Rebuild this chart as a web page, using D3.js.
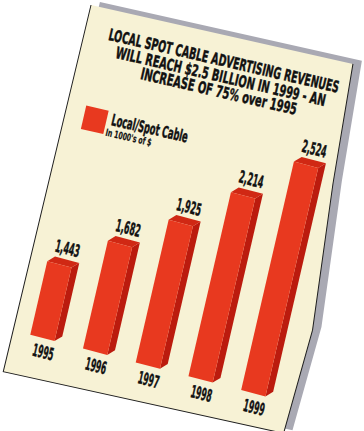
<!DOCTYPE html>
<html>
<head>
<meta charset="utf-8">
<script src="https://cdn.jsdelivr.net/npm/d3@7"></script>
<style>
    html, body { margin: 0; padding: 0; background: #fff; }
    #chart { width: 364px; height: 431px; overflow: hidden; }
    text { font-family: "DejaVu Sans Condensed", "Liberation Sans Narrow", sans-serif; font-weight: bold; fill: #111; stroke: #111; stroke-width: 0.45; }
</style>
</head>
<body>
<div id="chart"></div>
<script>
// Data
const years = ["1995", "1996", "1997", "1998", "1999"];
const revenues = [1443, 1682, 1925, 2214, 2524];
const titleLines = [
    "LOCAL SPOT CABLE ADVERTISING REVENUES",
    "WILL REACH $2.5 BILLION IN 1999 - AN",
    "INCREASE OF 75% over 1995"
];
const legendLabel = "Local/Spot Cable";
const legendUnit = "In 1000's of $";

const width = 364, height = 431;

const svg = d3.select("#chart").append("svg")
    .attr("width", width)
    .attr("height", height);

svg.append("rect")
    .attr("width", width)
    .attr("height", height)
    .attr("fill", "#fff");

// The page is photographed at a tilt, everything lives in this rotated group
const page = svg.append("g")
    .attr("transform", "translate(91,5) rotate(13)");

// card outline (slightly curled on the right)
const card = [[0, 0], [268.5, -1.5], [276, 120], [289, 267], [284, 374], [-3, 377]];
const outline = d3.line();

page.append("path")
    .attr("d", outline(card.map(p => [p[0] + 8, p[1] - 5])) + "Z")
    .attr("fill", "#a9a9b3");

page.append("path")
    .attr("d", outline(card) + "Z")
    .attr("fill", "#f7f2d5");

page.append("path")
    .attr("d", outline(card.slice(1).concat([card[0]])))
    .attr("fill", "none")
    .attr("stroke", "#1e1e1e")
    .attr("stroke-width", 1);

// Title
const titleX = [142, 142.5, 144];
const titleY = [30, 46, 61];
const titleW = [236, 215, 160];
page.selectAll("text.title")
    .data(titleLines)
    .join("text")
    .attr("class", "title")
    .attr("x", (d, i) => titleX[i])
    .attr("y", (d, i) => titleY[i])
    .attr("text-anchor", "middle")
    .attr("font-size", 16)
    .attr("textLength", (d, i) => titleW[i])
    .attr("lengthAdjust", "spacingAndGlyphs")
    .text(d => d);

// Legend
page.append("rect")
    .attr("x", 18)
    .attr("y", 99)
    .attr("width", 23)
    .attr("height", 24)
    .attr("fill", "#e8391f");

page.append("text")
    .attr("x", 46)
    .attr("y", 112.5)
    .attr("font-size", 16)
    .attr("textLength", 78)
    .attr("lengthAdjust", "spacingAndGlyphs")
    .text(legendLabel);

page.append("text")
    .attr("x", 43)
    .attr("y", 124)
    .attr("font-size", 10)
    .attr("textLength", 47)
    .attr("lengthAdjust", "spacingAndGlyphs")
    .style("stroke-width", 0.2)
    .text(legendUnit);

// Bars (the chart area is a bit skewed in the photo)
const chart = page.append("g")
    .attr("transform", "skewY(1.7)");

const x = d3.scaleBand()
    .domain(years)
    .range([15, 258])
    .paddingInner(0.54);

const y = d3.scaleLinear()
    .domain([930, 2524])
    .range([334.5, 100]);

const depth = 6.5;
const base = y(930);
const bw = x.bandwidth();
const data = years.map((yr, i) => ({year: yr, value: revenues[i]}));

const bars = chart.selectAll("g.bar")
    .data(data)
    .join("g")
    .attr("class", "bar");

// side face
bars.append("path")
    .attr("d", d => {
        const x1 = x(d.year) + bw, t = y(d.value);
        return outline([[x1, t], [x1 + depth, t - depth], [x1 + depth, base - depth], [x1, base]]) + "Z";
    })
    .attr("fill", "#bb1b0e");

// top face
bars.append("path")
    .attr("d", d => {
        const x0 = x(d.year), x1 = x0 + bw, t = y(d.value);
        return outline([[x0, t], [x0 + depth, t - depth], [x1 + depth, t - depth], [x1, t]]) + "Z";
    })
    .attr("fill", "#d02814");

// front face
bars.append("rect")
    .attr("x", d => x(d.year))
    .attr("y", d => y(d.value))
    .attr("width", bw)
    .attr("height", d => base - y(d.value))
    .attr("fill", "#e8391f");

// value labels
bars.append("text")
    .attr("x", d => x(d.year) + bw / 2 + 4.5)
    .attr("y", d => y(d.value) - 11.5)
    .attr("text-anchor", "middle")
    .attr("font-size", 17)
    .attr("textLength", 25)
    .attr("lengthAdjust", "spacingAndGlyphs")
    .text(d => d3.format(",")(d.value));

// year labels
bars.append("text")
    .attr("x", d => x(d.year) + bw / 2 + 4)
    .attr("y", base + 19.5)
    .attr("text-anchor", "middle")
    .attr("font-size", 17)
    .attr("textLength", 21.5)
    .attr("lengthAdjust", "spacingAndGlyphs")
    .text(d => d.year);
</script>
</body>
</html>
